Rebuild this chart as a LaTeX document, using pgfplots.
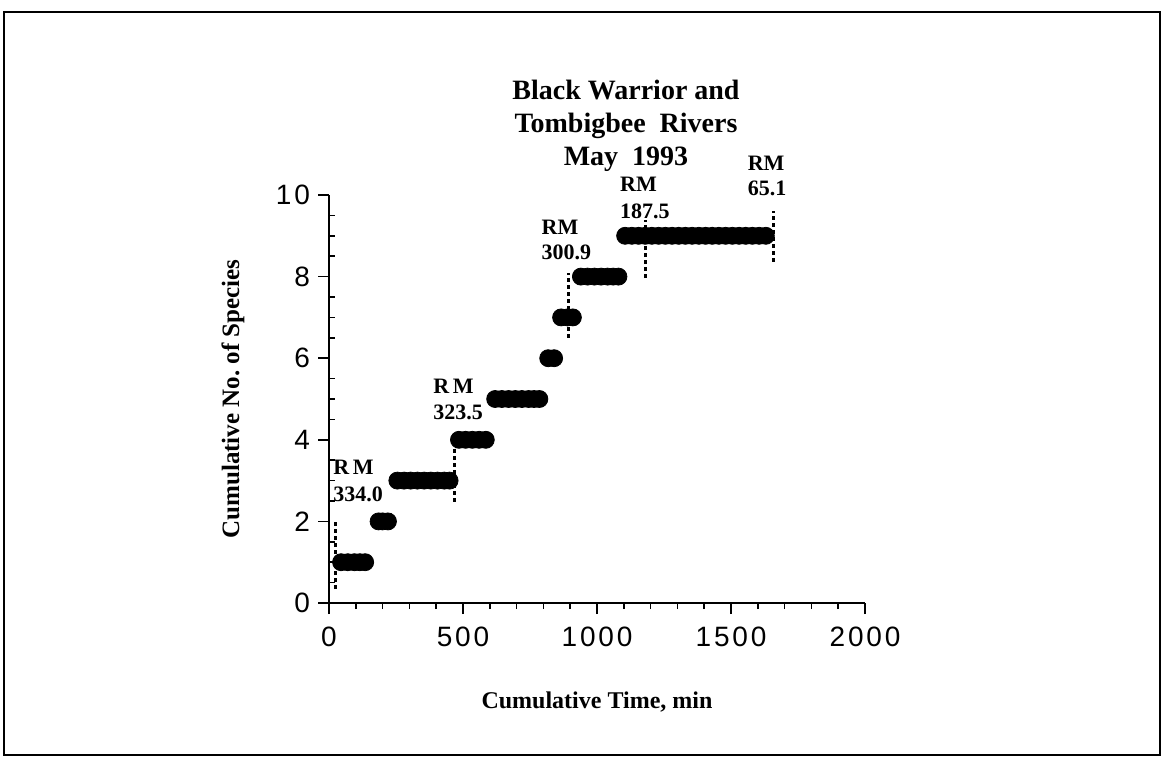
\documentclass[border=0pt]{standalone}
\usepackage{fontspec}
\setmainfont{Liberation Serif}
\newfontfamily\tickfont[LetterSpace=10]{Liberation Sans}
\usepackage{pgfplots}
\pgfplotsset{compat=1.18}
\begin{document}
\begin{tikzpicture}
\useasboundingbox (0,0) rectangle (581.5pt,378.5pt);
\draw[line width=1.1pt] (2pt,1pt) rectangle (580pt,372.5pt);
\node[align=center, font=\bfseries\fontsize{14}{16.5}\selectfont] at (313pt,315.5pt) {Black Warrior and\\Tombigbee\ \ Rivers\\May\ \ 1993};
\begin{axis}[
  at={(164.5pt,77pt)}, anchor=south west,
  scale only axis, width=268pt, height=204pt,
  xmin=0, xmax=2000, ymin=0, ymax=10,
  axis x line*=bottom, axis y line*=left,
  axis line style={line width=1pt},
  xtick={0,500,1000,1500,2000}, ytick={0,2,4,6,8,10},
  minor x tick num=4, minor y tick num=3,
  tick align=outside,
  major tick length=5.5pt, minor tick length=3pt,
  every tick/.style={black, line width=0.8pt},
  minor y tick style={xshift=3pt},
  scaled ticks=false,
  /pgf/number format/1000 sep={},
  /pgf/number format/assume math mode=true,
  tick label style={font=\tickfont\fontsize{14}{16}\selectfont},
  xticklabel style={yshift=-3pt},
  yticklabel style={xshift=-0.5pt},
  clip=false,
  xlabel={Cumulative\ Time,\ min},
  ylabel={Cumulative No.\ of\ Species},
  xlabel style={at={(axis description cs:0.5,-0.243)}, anchor=center, font=\bfseries\fontsize{12}{14}\selectfont},
  ylabel style={at={(axis description cs:-0.179,0.5)}, anchor=center, font=\bfseries\fontsize{12.5}{14}\selectfont},
]
% dashed station markers
\addplot[black, line width=1.4pt, dash pattern=on 2pt off 1.5pt] coordinates {(24,0.34) (24,2.0)};
\addplot[black, line width=1.4pt, dash pattern=on 2pt off 1.5pt] coordinates {(468,2.48) (468,4.0)};
\addplot[black, line width=1.4pt, dash pattern=on 2pt off 1.5pt] coordinates {(894,6.5) (894,8.1)};
\addplot[black, line width=1.4pt, dash pattern=on 2pt off 1.5pt] coordinates {(1181,7.96) (1181,9.39)};
\addplot[black, line width=1.4pt, dash pattern=on 2pt off 1.5pt] coordinates {(1659,8.37) (1659,9.6)};
% cumulative species
\addplot[only marks, mark=*, mark size=4.25pt, black] coordinates {
(45,1) (70,1) (95,1) (115,1) (135,1)
(185,2) (200,2) (220,2)
(255,3) (280,3) (305,3) (330,3) (355,3) (380,3) (405,3) (430,3) (450,3)
(485,4) (510,4) (535,4) (560,4) (585,4)
(620,5) (645,5) (670,5) (695,5) (720,5) (745,5) (765,5) (785,5)
(818,6) (840,6)
(866,7) (890,7) (910,7)
(940,8) (965,8) (990,8) (1015,8) (1040,8) (1060,8) (1080,8)
(1105,9) (1130,9) (1155,9) (1180,9) (1205,9) (1230,9) (1255,9) (1280,9) (1305,9) (1330,9) (1355,9)
(1380,9) (1405,9) (1430,9) (1455,9) (1480,9) (1505,9) (1530,9) (1555,9) (1580,9) (1605,9) (1630,9)
};
% station labels
\begin{scope}[every node/.style={font=\bfseries\fontsize{11}{13}\selectfont, anchor=base west, inner sep=0pt}]
\node at (axis cs:15,3.16) {R\,M};
\node at (axis cs:15,2.48) {334.0};
\node at (axis cs:388,5.14) {R\,M};
\node at (axis cs:388,4.50) {323.5};
\node at (axis cs:792,9.02) {RM};
\node at (axis cs:792,8.41) {300.9};
\node at (axis cs:1085,10.08) {RM};
\node at (axis cs:1085,9.43) {187.5};
\node at (axis cs:1561,10.61) {RM};
\node at (axis cs:1561,9.98) {65.1};
\end{scope}
\end{axis}
\end{tikzpicture}
\end{document}
